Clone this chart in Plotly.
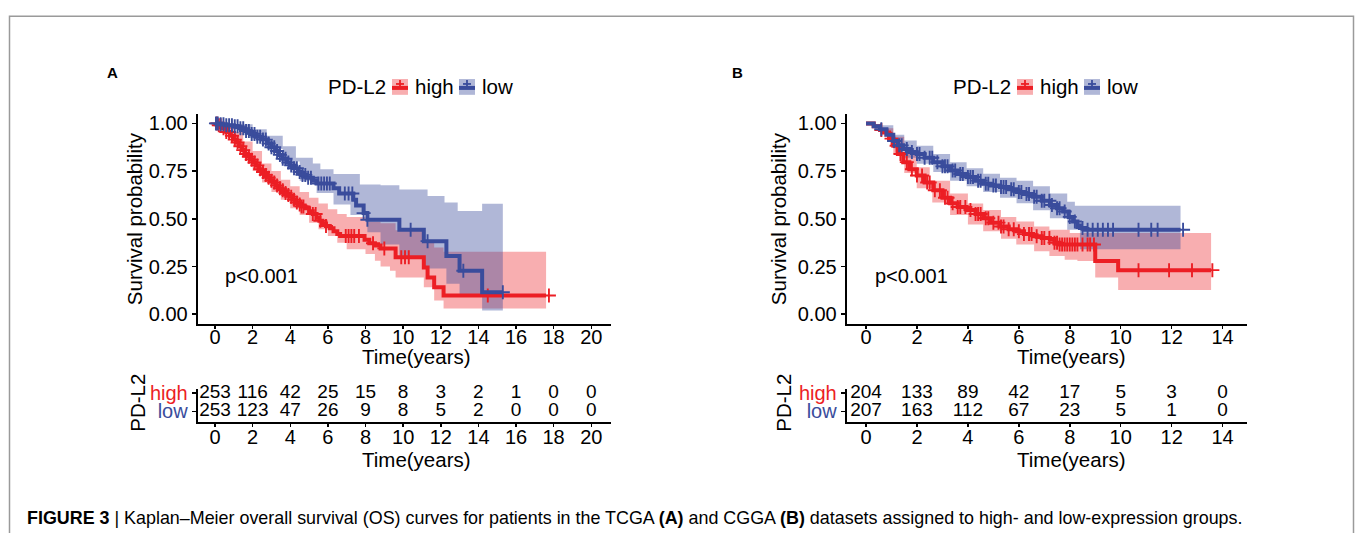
import numpy as np
import plotly.graph_objects as go

W, H = 1355, 533
FONT = "Liberation Sans, Arial, sans-serif"
RED = "#EC1E24"
BLUE = "#3A4C9C"
RED_FILL = "rgba(236,30,36,0.36)"
BLUE_FILL = "rgba(58,76,156,0.40)"

# ---------------- Panel A (TCGA) ----------------
a_high_t = [0, 0.2, 0.4, 0.6, 0.8, 1.0, 1.15, 1.3, 1.45, 1.6, 1.75, 1.9, 2.05, 2.2, 2.35, 2.5, 2.65, 2.8,
            2.95, 3.1, 3.25, 3.4, 3.55, 3.7, 3.85, 4.0, 4.15, 4.3, 4.45, 4.6, 4.8, 5.0, 5.2, 5.4, 5.55, 5.7,
            5.9, 6.1, 6.3, 6.5, 6.65, 7.95, 8.2, 8.5, 8.8, 9.6, 11.1, 11.3, 11.65, 12.15, 17.6]
a_high_s = [1.0, 0.99, 0.975, 0.955, 0.935, 0.915, 0.9, 0.88, 0.86, 0.84, 0.825, 0.81, 0.795, 0.78, 0.76,
            0.745, 0.73, 0.715, 0.70, 0.69, 0.675, 0.66, 0.65, 0.635, 0.625, 0.615, 0.60, 0.585, 0.575,
            0.565, 0.555, 0.54, 0.525, 0.505, 0.49, 0.475, 0.462, 0.45, 0.435, 0.42, 0.41, 0.39, 0.372,
            0.36, 0.345, 0.298, 0.245, 0.193, 0.141, 0.098, 0.098]
a_high_up_t = [0, 0.5, 1, 1.5, 2, 2.5, 3, 3.5, 4, 4.5, 5, 5.5, 6, 6.5, 7, 8, 8.8, 9.6, 11.1, 11.65, 12.15, 17.6]
a_high_up_s = [1.0, 0.995, 0.955, 0.905, 0.855, 0.79, 0.75, 0.705, 0.67, 0.64, 0.61, 0.58, 0.55, 0.525,
               0.51, 0.485, 0.477, 0.44, 0.38, 0.35, 0.327, 0.327]
a_high_lo_t = [0, 0.5, 1, 1.5, 2, 2.5, 3, 3.5, 4, 4.5, 5, 5.5, 6, 6.5, 7, 8, 8.5, 8.8, 9.3, 9.6, 11.1,
               11.65, 12.15, 17.6]
a_high_lo_s = [1.0, 0.96, 0.885, 0.82, 0.75, 0.69, 0.64, 0.60, 0.555, 0.52, 0.48, 0.445, 0.41, 0.375,
               0.34, 0.315, 0.28, 0.25, 0.228, 0.193, 0.141, 0.072, 0.03, 0.03]
a_high_cens = [0.1, 0.2, 0.3, 0.45, 0.6, 0.75, 0.9, 1.05, 1.2, 1.35, 1.5, 1.65, 1.8, 1.95, 2.1, 2.25, 2.4,
               2.55, 2.7, 2.85, 3.0, 3.15, 3.3, 3.45, 3.6, 3.75, 3.9, 4.05, 4.2, 4.35, 4.5, 4.6, 4.7, 5.2,
               5.35, 5.6, 5.9, 6.95, 7.1, 7.25, 7.4, 7.65, 8.4, 9.0, 9.9, 10.1, 10.3, 14.5, 17.75]

a_low_t = [0, 0.3, 0.6, 1.0, 1.3, 1.6, 1.9, 2.2, 2.5, 2.8, 3.0, 3.2, 3.4, 3.6, 3.8, 4.0, 4.2, 4.4, 4.6,
           4.9, 5.2, 5.4, 6.3, 6.6, 7.35, 7.5, 7.9, 8.1, 9.8, 11.1, 12.3, 13.0, 14.2, 15.3]
a_low_s = [1.0, 0.995, 0.99, 0.985, 0.975, 0.96, 0.945, 0.93, 0.915, 0.895, 0.875, 0.855, 0.835, 0.815,
           0.795, 0.78, 0.765, 0.745, 0.73, 0.715, 0.70, 0.685, 0.66, 0.633, 0.60, 0.57, 0.53, 0.495,
           0.443, 0.383, 0.305, 0.228, 0.115, 0.115]
a_low_up_t = [0, 1, 2, 2.75, 3.6, 4.3, 5.2, 5.6, 6.3, 7.7, 8.8, 9.8, 11.3, 12.2, 12.9, 14.2, 15.3]
a_low_up_s = [1.0, 0.995, 0.97, 0.935, 0.88, 0.82, 0.79, 0.76, 0.735, 0.68, 0.676, 0.653, 0.619, 0.585,
              0.541, 0.579, 0.579]
a_low_lo_t = [0, 1, 2, 2.75, 3.6, 4.5, 5.4, 6.3, 7.2, 8.1, 8.8, 9.8, 11.1, 12.3, 13.0, 14.2, 15.3]
a_low_lo_s = [1.0, 0.97, 0.915, 0.866, 0.80, 0.70, 0.635, 0.575, 0.52, 0.43, 0.365, 0.30, 0.24, 0.16,
              0.09, 0.02, 0.02]
a_low_cens = [0.05, 0.15, 0.3, 0.45, 0.6, 0.75, 0.9, 1.05, 1.2, 1.35, 1.5, 1.65, 1.8, 1.95, 2.1, 2.25, 2.4,
              2.55, 2.7, 2.85, 3.0, 3.15, 3.3, 3.45, 3.6, 3.75, 3.9, 4.05, 4.2, 4.35, 4.5, 4.65, 4.8, 4.95,
              5.1, 5.5, 5.65, 5.8, 5.95, 6.1, 6.9, 7.1, 7.3, 7.9, 8.1, 10.4, 11.3, 13.2, 15.3]

a_risk_times = [0, 2, 4, 6, 8, 10, 12, 14, 16, 18, 20]
a_risk_high = [253, 116, 42, 25, 15, 8, 3, 2, 1, 0, 0]
a_risk_low = [253, 123, 47, 26, 9, 8, 5, 2, 0, 0, 0]

# ---------------- Panel B (CGGA) ----------------
b_high_t = [0, 0.3, 0.55, 0.7, 0.9, 1.07, 1.25, 1.46, 1.7, 1.99, 2.3, 2.64, 3.0, 3.3, 3.6, 3.95, 4.3,
            4.6, 4.9, 5.26, 5.6, 5.9, 6.2, 6.56, 6.9, 7.22, 7.4, 7.6, 9.0, 9.9, 13.55]
b_high_s = [1.0, 0.985, 0.965, 0.952, 0.92, 0.883, 0.84, 0.797, 0.76, 0.727, 0.69, 0.65, 0.61, 0.581,
            0.562, 0.546, 0.525, 0.503, 0.48, 0.46, 0.445, 0.435, 0.42, 0.409, 0.40, 0.391, 0.375, 0.365,
            0.279, 0.231, 0.231]
b_high_up_t = [0, 0.7, 1.07, 1.5, 1.99, 2.5, 3.3, 4.0, 4.6, 5.3, 5.9, 6.6, 7.2, 8.0, 13.55]
b_high_up_s = [1.0, 0.975, 0.93, 0.85, 0.77, 0.70, 0.633, 0.58, 0.546, 0.51, 0.486, 0.46, 0.443, 0.426,
               0.426]
b_high_lo_t = [0, 0.7, 1.07, 1.5, 1.99, 2.6, 3.3, 4.0, 4.6, 5.3, 5.9, 6.6, 7.2, 7.8, 8.3, 9.0, 9.9, 13.55]
b_high_lo_s = [1.0, 0.93, 0.84, 0.74, 0.66, 0.585, 0.52, 0.47, 0.435, 0.395, 0.365, 0.33, 0.305, 0.285,
               0.279, 0.193, 0.127, 0.127]
b_high_cens = [0.6, 1.0, 1.2, 1.35, 1.6, 1.8, 2.0, 2.2, 2.4, 2.5, 2.7, 2.9, 3.1, 3.2, 3.4, 3.6, 3.7, 3.9,
               4.1, 4.3, 4.4, 4.5, 4.7, 4.8, 5.0, 5.2, 5.3, 5.4, 5.6, 5.8, 6.0, 6.2, 6.4, 6.5, 6.7, 6.9,
               7.0, 7.2, 7.4, 7.5, 7.6, 7.7, 7.8, 7.9, 8.0, 8.1, 8.2, 8.3, 8.5, 8.7, 8.8, 8.95, 10.7, 11.9,
               12.8, 13.6]

b_low_t = [0, 0.3, 0.55, 0.8, 1.07, 1.25, 1.46, 1.7, 1.99, 2.3, 2.64, 3.0, 3.3, 3.6, 3.95, 4.3, 4.6, 4.9,
           5.26, 5.6, 5.91, 6.2, 6.56, 6.9, 7.22, 7.5, 7.74, 7.95, 8.13, 8.3, 8.4, 8.6, 12.35]
b_low_s = [1.0, 0.985, 0.969, 0.94, 0.908, 0.885, 0.866, 0.85, 0.84, 0.82, 0.797, 0.775, 0.753, 0.735,
           0.719, 0.70, 0.684, 0.675, 0.667, 0.655, 0.641, 0.63, 0.616, 0.595, 0.572, 0.555, 0.538, 0.51,
           0.486, 0.465, 0.452, 0.443, 0.443]
b_low_up_t = [0, 0.55, 1.07, 1.5, 1.99, 2.64, 3.3, 3.95, 4.6, 5.26, 5.91, 6.56, 7.22, 7.9, 8.2, 12.35]
b_low_up_s = [1.0, 0.99, 0.94, 0.91, 0.883, 0.84, 0.797, 0.765, 0.736, 0.715, 0.70, 0.67, 0.633, 0.59,
              0.569, 0.569]
b_low_lo_t = [0, 0.55, 1.07, 1.5, 1.99, 2.64, 3.3, 3.95, 4.6, 5.26, 5.91, 6.56, 7.22, 7.9, 8.4, 12.35]
b_low_lo_s = [1.0, 0.945, 0.87, 0.82, 0.788, 0.745, 0.70, 0.67, 0.641, 0.61, 0.581, 0.545, 0.503, 0.443,
              0.34, 0.34]
b_low_cens = [0.6, 1.1, 1.3, 1.4, 1.6, 1.8, 2.0, 2.1, 2.3, 2.5, 2.6, 2.8, 3.0, 3.1, 3.2, 3.4, 3.5, 3.7,
              3.8, 4.0, 4.1, 4.2, 4.4, 4.5, 4.7, 4.8, 5.0, 5.1, 5.3, 5.4, 5.5, 5.7, 5.8, 6.0, 6.1, 6.3,
              6.4, 6.6, 6.7, 6.9, 7.0, 7.2, 7.3, 7.5, 7.6, 7.8, 8.0, 8.2, 8.5, 8.7, 8.9, 9.1, 9.3, 9.5,
              9.7, 10.7, 11.2, 11.45, 12.45]

b_risk_times = [0, 2, 4, 6, 8, 10, 12, 14]
b_risk_high = [204, 133, 89, 42, 17, 5, 3, 0]
b_risk_low = [207, 163, 112, 67, 23, 5, 1, 0]

strata_labels = ["high", "low"]
pvalue_text = "p<0.001"


def step_at(times, surv, query):
    idx = np.searchsorted(np.asarray(times), np.asarray(query), side="right") - 1
    idx = np.clip(idx, 0, len(surv) - 1)
    return np.asarray(surv)[idx]


# ---------------- pixel layout helpers ----------------
def px_x(p):
    return p / W


def px_y(p):
    return 1 - p / H


Y_TOP, Y_BOT = 109.3, 322.0        # main panels
T_TOP, T_BOT = 387.7, 421.7        # risk tables
A_L, A_R = 197.7, 611.0
B_L, B_R = 846.7, 1247.0

fig = go.Figure()


def add_panel(xa, ya, hi, lo, hi_band, lo_band, hi_c, lo_c):
    bands = [(hi_band, RED_FILL), (lo_band, BLUE_FILL)]
    for (ut, us, lt, ls), fc in bands:
        ux = np.unique(np.concatenate([ut, lt]))
        fig.add_trace(go.Scatter(x=ux, y=step_at(ut, us, ux), mode="lines",
                                 line=dict(width=0, shape="hv"),
                                 xaxis=xa, yaxis=ya, hoverinfo="skip", showlegend=False))
        fig.add_trace(go.Scatter(x=ux, y=step_at(lt, ls, ux), mode="lines",
                                 line=dict(width=0, shape="hv"), fill="tonexty", fillcolor=fc,
                                 xaxis=xa, yaxis=ya, hoverinfo="skip", showlegend=False))
    for (t, s, cens), col in [(hi + (hi_c,), RED), (lo + (lo_c,), BLUE)]:
        fig.add_trace(go.Scatter(x=t, y=s, mode="lines", line=dict(color=col, width=4, shape="hv"),
                                 xaxis=xa, yaxis=ya, showlegend=False))
        fig.add_trace(go.Scatter(x=cens, y=step_at(t, s, cens), mode="markers",
                                 marker=dict(symbol="cross-thin", size=10,
                                             line=dict(color=col, width=1.9)),
                                 xaxis=xa, yaxis=ya, showlegend=False))


add_panel("x", "y", (a_high_t, a_high_s), (a_low_t, a_low_s),
          (a_high_up_t, a_high_up_s, a_high_lo_t, a_high_lo_s),
          (a_low_up_t, a_low_up_s, a_low_lo_t, a_low_lo_s), a_high_cens, a_low_cens)
add_panel("x3", "y3", (b_high_t, b_high_s), (b_low_t, b_low_s),
          (b_high_up_t, b_high_up_s, b_high_lo_t, b_high_lo_s),
          (b_low_up_t, b_low_up_s, b_low_lo_t, b_low_lo_s), b_high_cens, b_low_cens)

# risk tables
for xa, ya, times, hi, lo in [("x2", "y2", a_risk_times, a_risk_high, a_risk_low),
                              ("x4", "y4", b_risk_times, b_risk_high, b_risk_low)]:
    for vals, row in [(hi, 2), (lo, 1)]:
        fig.add_trace(go.Scatter(x=times, y=[row] * len(times), mode="text",
                                 text=[str(v) for v in vals], cliponaxis=False,
                                 textfont=dict(family=FONT, size=19, color="black"),
                                 xaxis=xa, yaxis=ya, showlegend=False, hoverinfo="skip"))

axis_common = dict(showline=True, linecolor="black", linewidth=2, ticks="outside",
                   tickwidth=1.5, tickcolor="black", showgrid=False, zeroline=False,
                   tickfont=dict(family=FONT, size=20, color="black"))

fig.update_layout(
    width=W, height=H, margin=dict(l=0, r=0, t=0, b=0),
    paper_bgcolor="white", plot_bgcolor="white", showlegend=False, hovermode=False,
    xaxis=dict(domain=[px_x(A_L), px_x(A_R)], range=[-0.92, 21.05], tickvals=a_risk_times,
               anchor="y", ticklen=3, ticklabelstandoff=-9, **axis_common),
    yaxis=dict(domain=[px_y(Y_BOT), px_y(Y_TOP)], range=[-0.05, 1.05],
               tickvals=[0, 0.25, 0.5, 0.75, 1.0], ticktext=["0.00", "0.25", "0.50", "0.75", "1.00"],
               anchor="x", ticklen=4, **axis_common),
    xaxis2=dict(domain=[px_x(A_L), px_x(A_R)], range=[-0.92, 21.05], tickvals=a_risk_times,
                anchor="y2", ticklen=3, ticklabelstandoff=-7, **axis_common),
    yaxis2=dict(domain=[px_y(T_BOT), px_y(T_TOP)], range=[0.4, 2.25], tickvals=[1, 2],
                ticktext=["<span style='color:%s'>low</span>" % BLUE,
                          "<span style='color:%s'>high</span>" % RED],
                anchor="x2", ticklen=4, **axis_common),
    xaxis3=dict(domain=[px_x(B_L), px_x(B_R)], range=[-0.76, 14.96], tickvals=b_risk_times,
                anchor="y3", ticklen=3, ticklabelstandoff=-9, **axis_common),
    yaxis3=dict(domain=[px_y(Y_BOT), px_y(Y_TOP)], range=[-0.05, 1.05],
                tickvals=[0, 0.25, 0.5, 0.75, 1.0], ticktext=["0.00", "0.25", "0.50", "0.75", "1.00"],
                anchor="x3", ticklen=4, **axis_common),
    xaxis4=dict(domain=[px_x(B_L), px_x(B_R)], range=[-0.76, 14.96], tickvals=b_risk_times,
                anchor="y4", ticklen=3, ticklabelstandoff=-7, **axis_common),
    yaxis4=dict(domain=[px_y(T_BOT), px_y(T_TOP)], range=[0.4, 2.25], tickvals=[1, 2],
                ticktext=["<span style='color:%s'>low</span>" % BLUE,
                          "<span style='color:%s'>high</span>" % RED],
                anchor="x4", ticklen=4, **axis_common),
)

ann = []
shapes = []


def text(x, y, s, size=20, angle=0, xanchor="center", bold=False, color="black", family=FONT):
    ann.append(dict(x=px_x(x), y=px_y(y), xref="paper", yref="paper", text=s, showarrow=False,
                    textangle=angle, xanchor=xanchor, yanchor="middle",
                    font=dict(family=family, size=size, color=color)))


# axis titles
for cx, ycx, tcx in [(416.7, 134, 138), (1071.7, 778, 784)]:
    text(cx, 355, "Time(years)", size=20.5)
    text(cx, 460, "Time(years)", size=20.5)
    text(ycx, 216, "Survival probability", size=20.5, angle=-90)
    text(tcx, 402, "PD-L2", size=20.5, angle=-90)

# p-values
ann.append(dict(x=0.4, y=0.2, xref="x", yref="y", text=pvalue_text, showarrow=False, xanchor="left",
                font=dict(family=FONT, size=20, color="black")))
ann.append(dict(x=0.27, y=0.2, xref="x3", yref="y3", text=pvalue_text, showarrow=False, xanchor="left",
                font=dict(family=FONT, size=20, color="black")))

# panel letters
text(112, 67, "<b>A</b>", size=15, family="Liberation Sans, Arial")
text(737, 67, "<b>B</b>", size=15, family="Liberation Sans, Arial")


# manual legends
def legend(x0, y0):
    text(x0, y0, "PD-L2", size=20.5, xanchor="left")
    items = [(x0 + 66, RED_FILL, RED, strata_labels[0], x0 + 87),
             (x0 + 133, BLUE_FILL, BLUE, strata_labels[1], x0 + 154)]
    for sx, fc, lc, lab, tx in items:
        shapes.append(dict(type="rect", xref="paper", yref="paper", x0=px_x(sx), x1=px_x(sx + 16),
                           y0=px_y(y0 + 8), y1=px_y(y0 - 8), fillcolor=fc, line=dict(width=0)))
        shapes.append(dict(type="line", xref="paper", yref="paper", x0=px_x(sx), x1=px_x(sx + 16),
                           y0=px_y(y0 + 1), y1=px_y(y0 + 1), line=dict(color=lc, width=4)))
        shapes.append(dict(type="line", xref="paper", yref="paper", x0=px_x(sx + 4), x1=px_x(sx + 12),
                           y0=px_y(y0 - 3), y1=px_y(y0 - 3), line=dict(color=lc, width=1.8)))
        shapes.append(dict(type="line", xref="paper", yref="paper", x0=px_x(sx + 8), x1=px_x(sx + 8),
                           y0=px_y(y0 - 7), y1=px_y(y0 + 1), line=dict(color=lc, width=1.8)))
        text(tx, y0, lab, size=20.5, xanchor="left")


legend(326, 82)
legend(951, 82)

# frame & caption
shapes.append(dict(type="rect", xref="paper", yref="paper", x0=px_x(9.5), x1=px_x(1353.5),
                   y0=px_y(545), y1=px_y(10.5), line=dict(color="#9a9a9a", width=1.5),
                   fillcolor="rgba(0,0,0,0)"))
text(25, 519, "<b>FIGURE 3</b> | Kaplan–Meier overall survival (OS) curves for patients in the TCGA "
     "<b>(A)</b> and CGGA <b>(B)</b> datasets assigned to high- and low-expression groups.",
     size=17.9, xanchor="left", family="Liberation Sans, Arial")

fig.update_layout(annotations=ann, shapes=shapes)
fig.write_html("out.html", config={"displayModeBar": False, "staticPlot": True},
               post_script="document.body.style.margin='0';document.body.style.overflow='hidden';")
